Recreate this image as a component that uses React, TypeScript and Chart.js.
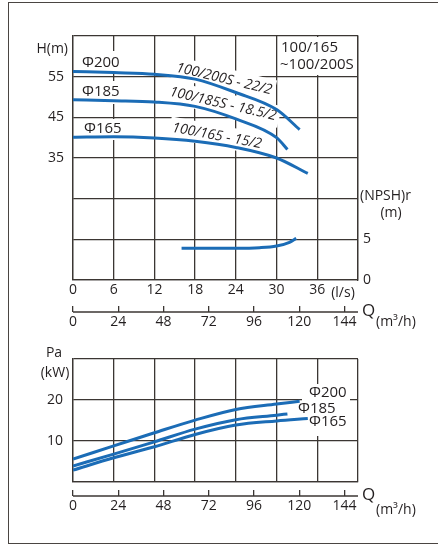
import React, { useEffect, useRef } from 'react';
import { Chart, registerables } from 'chart.js';

Chart.register(...registerables);

const FONT = '"Open Sans", "Noto Sans", "DejaVu Sans", sans-serif';
const BLUE = '#1b6cb6';
const GRID = '#3b3633';
const TEXT = '#231f20';

// ---- axis ticks ----
const flowLsTicks = [0, 6, 12, 18, 24, 30, 36];
const flowM3hTicks = [0, 24, 48, 72, 96, 120, 144];
const headTicks = [35, 45, 55];
const npshTicks = [0, 5];
const powerTicks = [10, 20];

// ---- Q-H curves (Q in l/s, H in m) ----
const q200 = [0, 6, 12, 18, 24, 30, 33.4];
const h200 = [56.3, 56.0, 55.6, 54.4, 51.1, 46.9, 42.0];
const q185 = [0, 6, 12, 18, 24, 30, 31.6];
const h185 = [49.3, 49.1, 48.8, 47.7, 44.6, 40.0, 37.1];
const q165 = [0, 6, 12, 18, 24, 30, 34.6];
const h165 = [40.1, 40.2, 39.9, 39.1, 37.6, 35.0, 31.2];

// ---- NPSHr curve ----
const qNpsh = [16, 18, 24, 27.5, 30, 31.9, 32.9];
const npsh = [3.9, 3.9, 3.9, 3.97, 4.18, 4.63, 5.12];

// ---- power curves (kW) ----
const p200 = [5.6, 8.8, 12.0, 15.1, 17.7, 19.0, 19.7];
const p185 = [3.9, 6.8, 9.8, 12.9, 15.2, 16.3, 16.6];
const p165 = [2.9, 5.9, 8.6, 11.6, 13.9, 14.9, 15.5];

const pts = (xs: number[], ys: number[]) => xs.map((x, i) => ({ x, y: ys[i] }));

type Label = {
  t: string;
  x: number;
  y: number;
  size?: number;
  align?: CanvasTextAlign;
  rot?: number;
  italic?: boolean;
  bg?: [number, number, number, number];
  rbg?: [number, number];
};

const drawLabels = (labels: Label[], boxes: [number, number, number, number][], offY: number) => ({
  id: 'labels' + offY,
  beforeDatasetsDraw(chart: any) {
    const ctx = chart.ctx as CanvasRenderingContext2D;
    ctx.save();
    ctx.fillStyle = '#ffffff';
    boxes.forEach(([x, y, w, h]) => ctx.fillRect(x, y - offY, w, h));
    labels.forEach((l) => {
      if (l.bg) ctx.fillRect(l.bg[0], l.bg[1] - offY, l.bg[2], l.bg[3]);
      if (l.rbg) {
        ctx.save();
        ctx.translate(l.x, l.y - offY);
        ctx.rotate(((l.rot || 0) * Math.PI) / 180);
        ctx.fillRect(-l.rbg[0] / 2, -l.rbg[1] / 2, l.rbg[0], l.rbg[1]);
        ctx.restore();
      }
    });
    ctx.fillStyle = TEXT;
    ctx.textBaseline = 'middle';
    labels.forEach((l) => {
      ctx.save();
      ctx.font = `${l.italic ? 'italic ' : ''}${l.size || 14}px ${FONT}`;
      ctx.textAlign = l.align || 'left';
      ctx.translate(l.x, l.y - offY);
      if (l.rot) ctx.rotate((l.rot * Math.PI) / 180);
      ctx.fillText(l.t, 0, 0);
      ctx.restore();
    });
    ctx.restore();
  },
});

const topLabels: Label[] = [
  { t: 'H(m)', x: 68, y: 49, align: 'right' },
  { t: 'Φ200', x: 82, y: 63, size: 15, bg: [78, 51, 44, 23] },
  { t: 'Φ185', x: 82, y: 92, size: 15, bg: [78, 81, 44, 23] },
  { t: 'Φ165', x: 84, y: 129, size: 15, bg: [80, 119, 46, 21] },
  { t: '100/165', x: 281, y: 48, size: 15 },
  { t: '~100/200S', x: 280, y: 65, size: 15 },
  { t: '100/200S - 22/2', x: 224, y: 79, rot: 13.5, italic: true, align: 'center', rbg: [104, 22] },
  { t: '100/185S - 18.5/2', x: 223, y: 104, rot: 13, italic: true, align: 'center', rbg: [116, 22] },
  { t: '100/165 - 15/2', x: 217, y: 136, rot: 10.5, italic: true, align: 'center', rbg: [96, 22] },
  { t: '(NPSH)r', x: 360, y: 196 },
  { t: '(m)', x: 391, y: 213, align: 'center' },
  { t: '(l/s)', x: 343, y: 293, align: 'center' },
  { t: 'Q', x: 362, y: 311, size: 17 },
  { t: '(m³/h)', x: 376, y: 322 },
];
const topBoxes: [number, number, number, number][] = [[278, 37, 79, 38]];

const botLabels: Label[] = [
  { t: 'Pa', x: 54, y: 353, align: 'center' },
  { t: '(kW)', x: 55, y: 373, align: 'center' },
  { t: 'Φ200', x: 309, y: 393, size: 15, bg: [302, 384, 48, 19] },
  { t: 'Φ185', x: 298, y: 409, size: 15, bg: [295, 402, 43, 14] },
  { t: 'Φ165', x: 309, y: 422, size: 15, bg: [306, 414, 44, 22] },
  { t: 'Q', x: 362, y: 495, size: 17 },
  { t: '(m³/h)', x: 376, y: 510 },
];

const lineDs = (data: { x: number; y: number }[], yAxisID = 'y') => ({
  data,
  yAxisID,
  xAxisID: 'x',
  borderColor: BLUE,
  borderWidth: 3,
  pointRadius: 0,
  fill: false,
  cubicInterpolationMode: 'monotone' as const,
});

const tickFont = { family: FONT, size: 14 };

const axisLinePlugin = {
  id: 'axisLine',
  afterDraw(chart: any) {
    const s = chart.scales.xm;
    const ctx = chart.ctx as CanvasRenderingContext2D;
    const y = s.top + 6;
    ctx.save();
    ctx.strokeStyle = GRID;
    ctx.lineWidth = 1.3;
    ctx.beginPath();
    ctx.moveTo(s.left, y);
    ctx.lineTo(s.right, y);
    ctx.stroke();
    ctx.restore();
  },
};

const xmScale = (h: number) => ({
  type: 'linear' as const,
  position: 'bottom' as const,
  weight: 1,
  min: 0,
  max: 151.2,
  ticks: {
    stepSize: 24,
    includeBounds: false,
    padding: 2,
    font: tickFont,
    color: TEXT,
    maxRotation: 0,
    autoSkip: false,
    callback: (v: any) => (flowM3hTicks.includes(v) ? String(v) : ''),
  },
  grid: { drawOnChartArea: false, drawTicks: true, tickLength: 6, color: GRID, lineWidth: 1.3 },
  border: { display: false },
  afterFit: (s: any) => {
    s.height = h;
  },
});

function TopChart() {
  const ref = useRef<HTMLCanvasElement>(null);
  useEffect(() => {
    const chart = new Chart(ref.current!, {
      type: 'line',
      data: {
        datasets: [
          lineDs(pts(q200, h200)),
          lineDs(pts(q185, h185)),
          lineDs(pts(q165, h165)),
          lineDs(pts(qNpsh, npsh), 'y2'),
        ],
      },
      options: {
        animation: false,
        responsive: false,
        maintainAspectRatio: false,
        layout: { padding: { top: 36, left: 0, right: 0, bottom: 0 } },
        plugins: { legend: { display: false }, tooltip: { enabled: false } },
        scales: {
          x: {
            type: 'linear',
            position: 'bottom',
            weight: 0,
            min: 0,
            max: 42,
            ticks: {
              stepSize: 6,
              padding: 2,
              font: tickFont,
              color: TEXT,
              maxRotation: 0,
              autoSkip: false,
              callback: (v: any) => (flowLsTicks.includes(v) ? String(v) : ''),
            },
            grid: { color: GRID, lineWidth: 1.3, drawTicks: false },
            border: { display: true, color: GRID, width: 1.3 },
            afterFit: (s: any) => {
              s.height = 26;
            },
          },
          xm: xmScale(34),
          y: {
            position: 'left',
            min: 5,
            max: 65,
            ticks: {
              stepSize: 10,
              padding: 9,
              font: tickFont,
              color: TEXT,
              callback: (v: any) => (headTicks.includes(v) ? String(v) : ''),
            },
            grid: { color: GRID, lineWidth: 1.3, drawTicks: false },
            border: { display: true, color: GRID, width: 1.3 },
            afterFit: (s: any) => {
              s.width = 73;
            },
          },
          y2: {
            position: 'right',
            min: 0,
            max: 30,
            ticks: {
              stepSize: 5,
              padding: 5,
              font: tickFont,
              color: TEXT,
              callback: (v: any) => (npshTicks.includes(v) ? String(v) : ''),
            },
            grid: { display: false, drawTicks: false },
            border: { display: true, color: GRID, width: 1.3 },
            afterFit: (s: any) => {
              s.width = 80;
            },
          },
        } as any,
      },
      plugins: [drawLabels(topLabels, topBoxes, 0), axisLinePlugin],
    });
    return () => chart.destroy();
  }, []);
  return (
    <canvas
      ref={ref}
      width={438}
      height={340}
      style={{ position: 'absolute', left: 0, top: 0, width: 438, height: 340 }}
    />
  );
}

function BottomChart() {
  const ref = useRef<HTMLCanvasElement>(null);
  useEffect(() => {
    const chart = new Chart(ref.current!, {
      type: 'line',
      data: {
        datasets: [lineDs(pts(q200, p200)), lineDs(pts(q185, p185)), lineDs(pts(q165, p165))],
      },
      options: {
        animation: false,
        responsive: false,
        maintainAspectRatio: false,
        layout: { padding: { top: 19, left: 0, right: 80, bottom: 0 } },
        plugins: { legend: { display: false }, tooltip: { enabled: false } },
        scales: {
          x: {
            type: 'linear',
            position: 'bottom',
            weight: 0,
            min: 0,
            max: 42,
            ticks: { stepSize: 6, display: false },
            grid: { color: GRID, lineWidth: 1.3, drawTicks: false },
            border: { display: true, color: GRID, width: 1.3 },
            afterFit: (s: any) => {
              s.height = 8;
            },
          },
          xm: xmScale(56),
          y: {
            position: 'left',
            min: 0,
            max: 30,
            ticks: {
              stepSize: 10,
              padding: 10,
              font: tickFont,
              color: TEXT,
              callback: (v: any) => (powerTicks.includes(v) ? String(v) : ''),
            },
            grid: { color: GRID, lineWidth: 1.3, drawTicks: false },
            border: { display: true, color: GRID, width: 1.3 },
            afterFit: (s: any) => {
              s.width = 73;
            },
          },
        } as any,
      },
      plugins: [drawLabels(botLabels, [], 340), axisLinePlugin],
    });
    return () => chart.destroy();
  }, []);
  return (
    <canvas
      ref={ref}
      width={438}
      height={206}
      style={{ position: 'absolute', left: 0, top: 340, width: 438, height: 206 }}
    />
  );
}

export default function App() {
  return (
    <div
      style={{
        position: 'absolute',
        left: 0,
        top: 0,
        width: 438,
        height: 546,
        overflow: 'hidden',
        background: '#fff',
      }}
    >
      <div
        style={{
          position: 'absolute',
          left: 7.5,
          top: 2,
          width: 460,
          height: 540,
          borderLeft: '1.5px solid #4a4542',
          borderTop: '1.5px solid #4a4542',
          borderBottom: '1.5px solid #4a4542',
        }}
      />
      <TopChart />
      <BottomChart />
    </div>
  );
}
